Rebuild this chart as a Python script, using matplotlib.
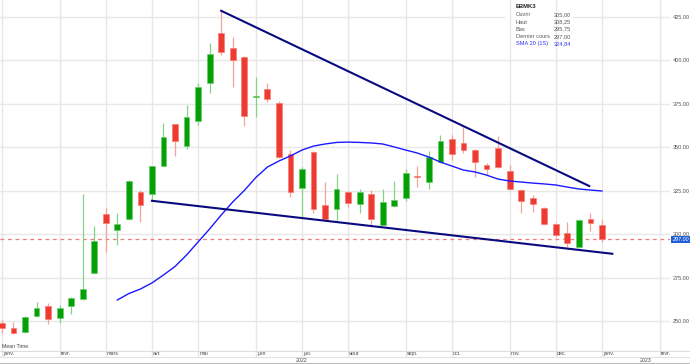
import matplotlib
matplotlib.use("Agg")
import matplotlib.pyplot as plt
import matplotlib.transforms as mtransforms
from matplotlib.patches import Rectangle
from matplotlib.lines import Line2D
import pandas as pd

plt.rcParams['font.family'] = ['Liberation Sans', 'DejaVu Sans']

# weekly candles, EBMK3, 2022
ticker = "EBMK3"
week_start = "2022-01-03"
opens = [248.8, 246.1, 243.7, 252.9, 258.6, 251.7, 258.6, 262.7, 277.6, 311.6,
         302.4, 308.7, 324.3, 323.1, 339.4, 363.2, 350.9, 365.1, 387.0, 415.8,
         407.2, 402.0, 378.7, 383.5, 375.5, 346.1, 326.6, 347.3, 316.8, 314.5,
         324.3, 317.3, 323.1, 305.3, 316.2, 320.8, 333.7, 330.0, 341.5, 354.8,
         352.5, 348.4, 339.8, 349.6, 336.3, 325.4, 320.8, 315.0, 305.8, 300.6,
         292.6, 308.7, 305.0]
highs = [250.6, 249.4, 253.0, 260.9, 260.3, 259.0, 263.8, 323.1, 304.7, 315.0,
         312.2, 331.0, 325.4, 339.5, 363.8, 363.5, 374.3, 387.0, 410.0, 428.5,
         413.5, 402.5, 390.5, 387.0, 376.5, 348.4, 338.6, 347.8, 330.0, 334.6,
         324.8, 326.0, 325.4, 326.0, 330.6, 337.5, 339.2, 347.9, 357.1, 357.0,
         361.7, 349.0, 341.0, 356.5, 339.8, 325.8, 322.5, 315.5, 306.4, 307.0,
         308.5, 312.2, 308.25]
lows = [243.3, 242.5, 243.0, 252.5, 248.3, 248.8, 254.0, 262.0, 277.0, 289.7,
        293.7, 308.0, 306.9, 319.6, 339.0, 345.2, 349.0, 362.8, 381.2, 403.1,
        384.7, 362.2, 367.4, 376.1, 344.0, 321.4, 309.9, 312.2, 308.0, 307.6,
        315.6, 312.2, 304.1, 305.0, 315.6, 319.1, 327.1, 326.0, 341.0, 342.7,
        346.7, 332.9, 334.0, 338.1, 325.5, 312.2, 312.7, 305.5, 298.3, 292.6,
        292.0, 301.8, 295.75]
closes = [246.0, 242.9, 252.3, 257.5, 251.1, 257.5, 263.2, 268.4, 296.0, 306.4,
          305.8, 330.6, 316.8, 339.2, 356.1, 353.8, 367.6, 384.7, 403.7, 404.9,
          400.2, 368.0, 379.2, 377.8, 344.4, 324.3, 337.5, 314.5, 308.7, 326.0,
          317.9, 324.3, 308.7, 318.5, 319.6, 335.2, 332.9, 344.4, 353.6, 346.1,
          348.4, 341.5, 337.5, 338.6, 326.0, 319.1, 317.3, 305.8, 299.5, 294.9,
          308.1, 306.4, 297.0]

# SMA 20, starts at week 10
sma_start = 10
sma20 = [262.1, 265.8, 268.4, 271.9, 276.5, 281.4, 288.0, 295.5, 303.0, 311.0,
         318.5, 325.1, 332.6, 338.6, 342.1, 345.0, 348.4, 350.7, 351.9, 352.8,
         353.0, 352.8, 352.5, 351.9, 350.2, 348.4, 346.7, 344.4, 341.5, 339.2,
         336.9, 335.8, 334.0, 331.7, 330.6, 330.0, 329.4, 328.9, 328.3, 327.1,
         326.0, 325.4, 324.84]

# drawn trend lines (week index, price)
upper_x = [19.0, 50.9]
upper_y = [428.6, 327.7]
lower_x = [13.0, 52.9]
lower_y = [319.2, 288.7]

last_price = 297.0
y_ticks = [250, 275, 300, 325, 350, 375, 400, 425]
month_names = ['janv.', 'févr.', 'mars', 'avr.', 'mai', 'juin', 'juil.',
               'août', 'sept.', 'oct.', 'nov.', 'déc.']
year_labels = [(26, "2022"), (55.8, "2023")]
legend_rows = [("Ouvrir", "305,00"), ("Haut", "308,25"), ("Bas", "295,75"),
               ("Dernier cours", "297,00")]
sma_row = ("SMA 20 (1S)", "324,84")

W, H = 690, 364
fig = plt.figure(figsize=(W / 100, H / 100), dpi=100)
ax_h = 350.7
ax = fig.add_axes([0, 1 - ax_h / H, 670 / W, ax_h / H])
ax.set_xlim(-0.17, 57.9)
ax.set_ylim(232.9, 434.8)
for s in ax.spines.values():
    s.set_visible(False)
ax.set_xticks([])
ax.yaxis.tick_right()
ax.set_yticks(y_ticks)
ax.set_yticklabels([f"{v:.2f}" for v in y_ticks])
ax.tick_params(axis='y', length=0, pad=2, labelsize=4, labelcolor='#555555')

xdata_yaxes = mtransforms.blended_transform_factory(ax.transData, ax.transAxes)
xaxes_ydata = mtransforms.blended_transform_factory(ax.transAxes, ax.transData)

# grid
ax.hlines(y_ticks, -1, 60, color='#e8e8e8', lw=1, zorder=0)
ax.add_patch(Rectangle((505 / W, 1 - 50 / H), 68 / W, 50 / H, transform=fig.transFigure,
                       facecolor='white', edgecolor='none', zorder=0.5))

weeks = pd.date_range(week_start, periods=58, freq="7D")
month_idx = [i for i in range(len(weeks)) if i == 0 or weeks[i].month != weeks[i - 1].month]
ax.vlines(month_idx, -6 / ax_h, 1, transform=xdata_yaxes, color='#e6e6e6', lw=1,
          zorder=0.6, clip_on=False)

# candles
xs = list(range(len(opens)))
up = [c >= o for o, c in zip(opens, closes)]
wick_cols = ['#86d386' if u else '#f4a29c' for u in up]
body_cols = ['#05a005' if u else '#ee3a30' for u in up]
edge_cols = ['#6ccb6c' if u else '#f47e76' for u in up]
ax.vlines(xs, lows, highs, colors=wick_cols, lw=0.9, zorder=2)
bottoms = [min(o, c) for o, c in zip(opens, closes)]
heights = [max(abs(c - o), 0.7) for o, c in zip(opens, closes)]
ax.bar(xs, heights, bottom=bottoms, width=0.5, color=body_cols,
       edgecolor=edge_cols, lw=0.5, zorder=3)

# SMA and trend lines
ax.plot(range(sma_start, sma_start + len(sma20)), sma20, color='#1a1aff', lw=1.0, zorder=4)
ax.plot(upper_x, upper_y, color='#0a0a80', lw=1.5, zorder=5)
ax.plot(lower_x, lower_y, color='#0a0a80', lw=1.5, zorder=5)

# last price
ax.axhline(last_price, color='#f27a7a', lw=0.9, ls=(0, (3, 3)), zorder=1)
ax.text(1.003, last_price, f"{last_price:.2f}", transform=xaxes_ydata, color='white',
        fontsize=4, style='italic', va='center', ha='left', clip_on=False,
        bbox=dict(boxstyle='square,pad=0.2', fc='#1f5fd8', ec='none'))

# month and year rows
for idx in month_idx:
    ax.text(idx + 0.1, -3.2 / ax_h, month_names[weeks[idx].month - 1], transform=xdata_yaxes,
            fontsize=3.8, color='#444444', va='center', ha='left', clip_on=False)
for pos, lab in year_labels:
    ax.text(pos, -9.4 / ax_h, lab, transform=xdata_yaxes, fontsize=3.8,
            color='#444444', va='center', ha='center', clip_on=False)

for yy, col in [(350.7, '#dddddd'), (357.3, '#e2e2e2'), (362.7, '#bbbbbb')]:
    fig.add_artist(Line2D([0, 1], [1 - yy / H] * 2, transform=fig.transFigure,
                          color=col, lw=0.8))
fig.text(2 / W, 1 - 346.7 / H, "Mean Time", fontsize=3.8, color='#444444', va='center')

# info box
fig.text(516 / W, 1 - 6 / H, ticker, fontsize=4.2, fontweight='bold', color='#222222',
         va='center')
for k, (lab, val) in enumerate(legend_rows + [sma_row]):
    yy = 15 + k * 7.1
    col = '#3333ee' if k == len(legend_rows) else '#555555'
    fig.text(516 / W, 1 - yy / H, lab, fontsize=4.1, color=col, va='center')
    fig.text(571 / W, 1 - yy / H, val, fontsize=4.1, color=col, va='center', ha='right')

fig.savefig("out.png", dpi=100, facecolor='white')
